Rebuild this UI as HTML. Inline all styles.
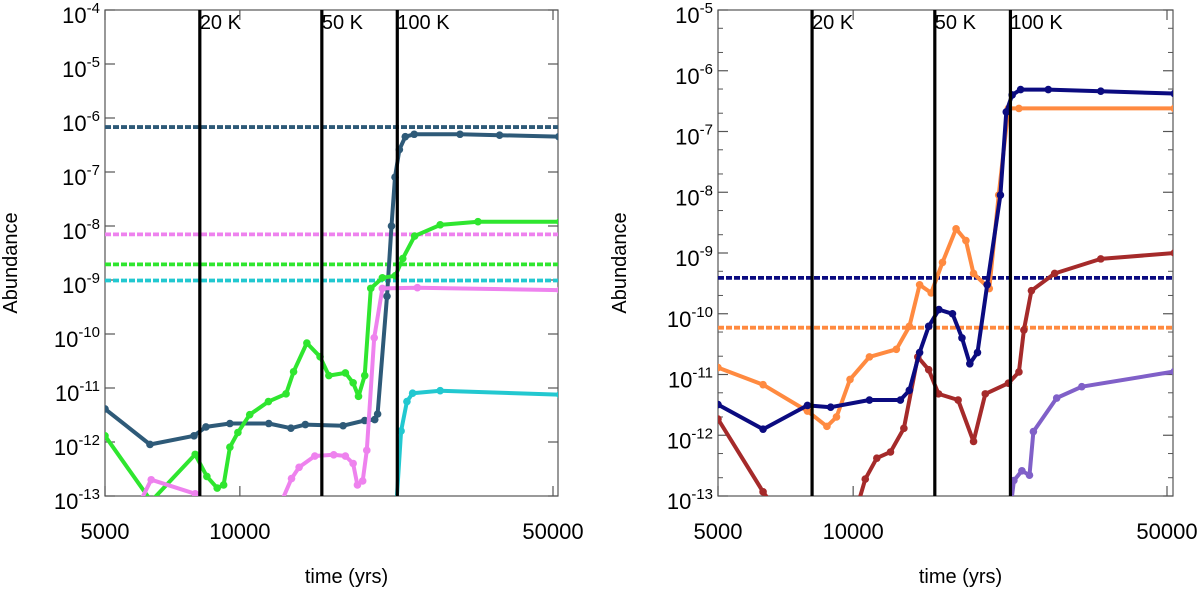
<!DOCTYPE html>
<html><head><meta charset="utf-8"><style>
body{margin:0;background:#fff;}
svg text{font-family:"Liberation Sans",Arial,sans-serif;fill:#000;}
</style></head><body>
<svg id="chart" width="1200" height="589" viewBox="0 0 1200 589" xmlns="http://www.w3.org/2000/svg"></svg>
<script>
// ---------- data: left panel ----------
const leftTempLines = [8140, 15240, 22460];
const tempLabels = ["20 K", "50 K", "100 K"];
const xTickValues = [5000, 10000, 50000];
const xTickLabels = ["5000", "10000", "50000"];
const leftYExp = [-4,-5,-6,-7,-8,-9,-10,-11,-12,-13];
const rightYExp = [-5,-6,-7,-8,-9,-10,-11,-12,-13];

const slateT = [5000,6300,7900,8400,9500,11600,13000,14000,17000,19000,20000,20300,21300,21800,22200,22700,23400,24500,31000,38000,51500];
const slateV = [4.1e-12,9e-13,1.3e-12,1.9e-12,2.2e-12,2.2e-12,1.8e-12,2.1e-12,2e-12,2.5e-12,2.6e-12,3.3e-12,5e-10,1e-8,8e-8,2.6e-7,4.5e-7,5e-7,5e-7,4.8e-7,4.5e-7];
const greenT = [5000,6340,7950,8440,8900,9200,9500,9900,10520,11580,12680,13180,14110,15100,15800,17200,17900,18400,19000,19600,20800,22240,23100,24550,28000,34000,51800];
const greenV = [1.3e-12,8e-14,5.9e-13,2.3e-13,1.4e-13,1.6e-13,8e-13,1.5e-12,3.2e-12,5.6e-12,7.8e-12,2e-11,6.8e-11,3.8e-11,1.7e-11,1.9e-11,1.25e-11,7e-12,1.7e-11,7e-10,1.1e-9,1.2e-9,2.5e-9,6.5e-9,1.05e-8,1.2e-8,1.2e-8];
const pinkT1 = [6000,6340,7950];
const pinkV1 = [8e-14,2e-13,1.1e-13];
const pinkT2 = [12400,13040,13560,14700,16200,17200,17900,18300,18800,19200,19950,20800,24900,51800];
const pinkV2 = [8e-14,2.1e-13,3.4e-13,5.5e-13,5.8e-13,5.5e-13,4e-13,1.6e-13,1.9e-13,7e-13,8.5e-11,7e-10,7.2e-10,6.5e-10];
const cyanT = [22300,22900,23600,24300,28000,51800];
const cyanV = [5e-14,1.6e-12,5.6e-12,8e-12,8.9e-12,7.5e-12];
const leftDashed = [6.8e-7, 7e-9, 1.95e-9, 9.8e-10];
const leftDashedColors = ["#2e5a78","#ee82ee","#2fe62f","#22c8d0"];

// ---------- data: right panel ----------
const navyT = [5000,6300,7910,8910,10870,12740,13340,14060,14730,15520,16640,17470,18190,18920,19880,21280,21930,22600,23600,27200,35600,51900];
const navyV = [3.2e-12,1.26e-12,3.1e-12,2.9e-12,3.8e-12,3.8e-12,5.5e-12,2.3e-11,6.2e-11,1.17e-10,1e-10,4e-11,1.5e-11,2.3e-11,3e-10,9e-9,2.1e-7,4e-7,4.9e-7,4.9e-7,4.6e-7,4.2e-7];
const orangeT = [5000,6300,7910,8740,9180,9840,10870,12480,13340,14060,14920,15810,16950,17830,18540,20100,21090,22170,23400,51900];
const orangeV = [1.3e-11,6.8e-12,2.5e-12,1.4e-12,2e-12,8.3e-12,1.95e-11,2.6e-11,6.2e-11,3e-10,2.2e-10,7e-10,2.5e-9,1.6e-9,4.6e-10,2.6e-10,9e-9,2.4e-7,2.4e-7,2.4e-7];
const brownT1 = [5000,6300,7000];
const brownV1 = [1.85e-12,1.17e-13,4e-14];
const brownT2 = [10000,10640,11290,12110,12970,13930,14730,15490,17130,18540,19690,22170,23400,24000,24950,28100,35600,51900];
const brownV2 = [4e-14,1.9e-13,4.2e-13,5.3e-13,1.3e-12,1.95e-11,1.2e-11,4.8e-12,3.8e-12,7.9e-13,4.8e-12,7.2e-12,1.1e-11,5.4e-11,2.4e-10,4.6e-10,8e-10,1e-9];
const purpleT = [22400,22800,23760,24700,25200,28400,32300,51900];
const purpleV = [6e-14,1.8e-13,2.6e-13,2.2e-13,1.15e-12,4.1e-12,6.3e-12,1.12e-11];
const rightDashed = [3.9e-10, 5.9e-11];
const rightDashedColors = ["#0b0b80","#ff8a40"];
const rightTempLines = [8100, 15200, 22400];

const NS="http://www.w3.org/2000/svg";
const svg=document.getElementById('chart');
function mk(tag,attrs,parent){const e=document.createElementNS(NS,tag);for(const k in attrs)e.setAttribute(k,attrs[k]);(parent||svg).appendChild(e);return e;}

function panel(p){
  const g=mk('g',{});
  
  
  const xS=t=>p.x0+(Math.log10(t)-Math.log10(5000))*p.dec;
  const yS=v=>p.y0+(p.topExp-Math.log10(v))*(p.y1-p.y0)/(p.topExp+13);
  const clipId='clip'+p.name;
  const cp=mk('clipPath',{id:clipId},g);
  mk('rect',{x:p.x0,y:p.y0,width:p.x1-p.x0,height:p.y1-p.y0},cp);
  const fr=mk('rect',{x:p.x0,y:p.y0,width:p.x1-p.x0,height:p.y1-p.y0,fill:'none',stroke:'#555','stroke-width':1.2},g);
  
  
  p.yExp.forEach(e=>{
    const y=yS(Math.pow(10,e));
    mk('line',{x1:p.x0,x2:p.x0+10,y1:y,y2:y,stroke:'#555','stroke-width':1.2},g);
    mk('line',{x1:p.x1,x2:p.x1-10,y1:y,y2:y,stroke:'#555','stroke-width':1.2},g);
    if(p.minor && e>-13){
      [5,2].forEach(m=>{const ym=yS(m*Math.pow(10,e-1));
        mk('line',{x1:p.x0,x2:p.x0+5,y1:ym,y2:ym,stroke:'#555'},g);
        mk('line',{x1:p.x1,x2:p.x1-5,y1:ym,y2:ym,stroke:'#555'},g);});
    }
    const t=mk('text',{x:p.x0-5,y:y+13,'text-anchor':'end','font-size':22},g);
    
    
    t.textContent='10';
    const s=mk('tspan',{dy:-10,'font-size':15},t); s.textContent=String(e);
  });
  xTickValues.forEach((v,i)=>{
    const x=xS(v);
    mk('line',{x1:x,x2:x,y1:p.y1,y2:p.y1-10,stroke:'#555','stroke-width':1.2},g);
    mk('line',{x1:x,x2:x,y1:p.y0,y2:p.y0+10,stroke:'#555','stroke-width':1.2},g);
    const t=mk('text',{x:x,y:p.y1+43,'text-anchor':'middle','font-size':22},g);
    
    
    t.textContent=xTickLabels[i];
  });
  const xt=mk('text',{x:(p.x0+p.x1)/2+15,y:583,'text-anchor':'middle','font-size':20},g);
  
  
  xt.textContent='time (yrs)';
  const yt=mk('text',{x:0,y:0,'text-anchor':'middle','font-size':20,transform:`translate(${p.x0-p.ylabOff},${(p.y0+p.y1)/2+10}) rotate(-90)`},g);
  
  
  yt.textContent='Abundance';
  const dg=mk('g',{'clip-path':`url(#${clipId})`},g);
  p.dashed.forEach((v,i)=>{
    const y=yS(v);
    const l=mk('line',{x1:p.x0,x2:p.x1,y1:y,y2:y,stroke:p.dashedColors[i],'stroke-width':3.8,'stroke-dasharray':'6,2'},dg);
    
    
  });
  p.series.forEach(s=>{
    const pts=s.t.map((t,i)=>xS(t).toFixed(1)+','+yS(s.v[i]).toFixed(1)).join(' ');
    const pl=mk('polyline',{points:pts,fill:'none',stroke:s.c,'stroke-width':4,'stroke-linejoin':'round'},dg);
    
    
    s.t.forEach((t,i)=>{
      const c=mk('circle',{cx:xS(t),cy:yS(s.v[i]),r:3.8,fill:s.c},dg);
      
      
    });
  });
  p.temps.forEach((v,i)=>{
    const x=xS(v);
    const l=mk('line',{x1:x,x2:x,y1:p.y0,y2:p.y1,stroke:'#000','stroke-width':3.2},g);
    
    
    const t=mk('text',{x:x,y:p.y0+19,'font-size':20},g);
    
    
    t.textContent=tempLabels[i];
  });
}

panel({name:'left-panel',x0:105,x1:558,y0:10,y1:496,dec:448,topExp:-4,yExp:leftYExp,minor:false,ylabOff:88,
  dashed:leftDashed,dashedColors:leftDashedColors,temps:leftTempLines,
  series:[{n:'slate-series',t:slateT,v:slateV,c:'#2e5a78'},{n:'green-series',t:greenT,v:greenV,c:'#2fe62f'},
    {n:'pink-series-a',t:pinkT1,v:pinkV1,c:'#ee82ee'},{n:'pink-series-b',t:pinkT2,v:pinkV2,c:'#ee82ee'},
    {n:'cyan-series',t:cyanT,v:cyanV,c:'#22c8d0'}]});
panel({name:'right-panel',x0:718,x1:1173,y0:10,y1:496,dec:449,topExp:-5,yExp:rightYExp,minor:true,ylabOff:92,
  dashed:rightDashed,dashedColors:rightDashedColors,temps:rightTempLines,
  series:[{n:'orange-series',t:orangeT,v:orangeV,c:'#ff8a40'},{n:'brown-series-a',t:brownT1,v:brownV1,c:'#a52a2a'},
    {n:'brown-series-b',t:brownT2,v:brownV2,c:'#a52a2a'},{n:'purple-series',t:purpleT,v:purpleV,c:'#8060c8'},
    {n:'navy-series',t:navyT,v:navyV,c:'#0b0b80'}]});
</script>
</body></html>
